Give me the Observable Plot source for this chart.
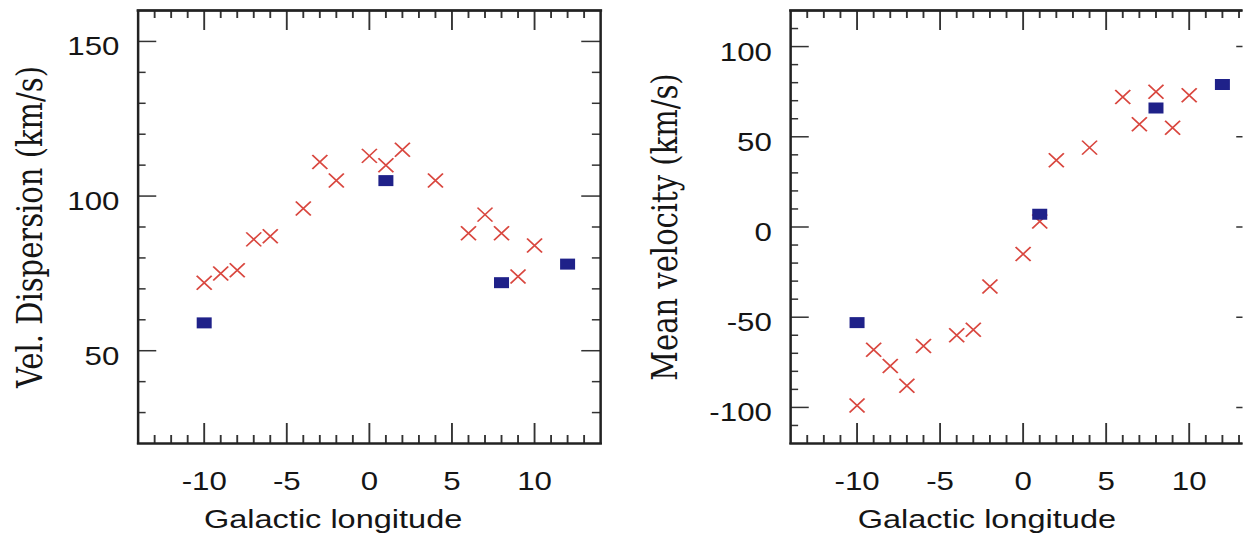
<!DOCTYPE html>
<html>
<head>
<meta charset="utf-8">
<script src="https://cdn.jsdelivr.net/npm/d3@7"></script>
<script src="https://cdn.jsdelivr.net/npm/@observablehq/plot@0.6"></script>
<style>
  html, body { margin: 0; padding: 0; background: #fff; overflow: hidden; }
  #wrap { position: relative; width: 994.4px; height: 540px; overflow: hidden;
          transform: scaleX(1.25); transform-origin: 0 0; background: #fff; }
  #wrap svg { position: absolute; top: 0; }
</style>
</head>
<body>
<div id="wrap"></div>
<script>
// ---- data ----
const starLon = [-10, -9, -8, -7, -6, -4, -3, -2, 0, 1, 2, 4, 6, 7, 8, 9, 10];
const starDisp = [72, 75, 76, 86, 87, 96, 111, 105, 113, 110, 115, 105, 88, 94, 88, 74, 84];
const starVel = [-99, -68, -77, -88, -66, -60, -57, -33, -15, 3, 37, 44, 72, 57, 75, 55, 73];
const fieldLon = [-10, 1, 8, 12];
const fieldDisp = [59, 105, 72, 78];
const fieldVel = [-53, 7, 66, 79];

const xTicks = [-10, -5, 0, 5, 10];
const dispTicks = [50, 100, 150];
const velTicks = [-100, -50, 0, 50, 100];

const xTitle = "Galactic longitude";
const dispTitle = "Vel. Dispersion (km/s)";
const velTitle = "Mean velocity (km/s)";

// ---- helpers ----
const H = 540, MT = 10, MB = 97, FH = H - MT - MB;
const crossColor = "#d9473f";
const squareColor = "#1f2189";
const inkColor = "#151515";
const hyphen = d => `${d}`; // plain ASCII hyphen-minus as in the reference

const crossSymbol = {draw(ctx) { ctx.moveTo(-6, -7); ctx.lineTo(6, 7); ctx.moveTo(6, -7); ctx.lineTo(-6, 7); }};
const squareSymbol = {draw(ctx) { ctx.rect(-6, -5.5, 12, 11); }};

const xMinor = d3.range(-13, 14, 1).filter(v => !xTicks.includes(v));

function panel({left, width, marginLeft, marginRight, yDomain, yTicks, yMinor, starY, fieldY, yTitle, yTitleDx}) {
  const FW = width - marginLeft - marginRight;
  const stars = starLon.map((l, i) => ({l, v: starY[i]}));
  const fields = fieldLon.map((l, i) => ({l, v: fieldY[i]}));
  const tick = {stroke: "#333", strokeWidth: 1.5};
  const frameStyle = {stroke: "#222", strokeWidth: 2};
  const svg = Plot.plot({
    width, height: H, marginTop: MT, marginBottom: MB, marginLeft, marginRight,
    style: {fontFamily: "'Liberation Sans', Arial, Helvetica, sans-serif", color: inkColor, background: "#fff", overflow: "visible"},
    x: {domain: [-14, 14], label: null},
    y: {domain: yDomain, label: null},
    marks: [
      // bottom & top ticks (inward)
      Plot.tickX(xTicks, {x: d => d, insetTop: FH - 20, ...tick}),
      Plot.tickX(xMinor, {x: d => d, insetTop: FH - 8, ...tick}),
      Plot.tickX(xTicks, {x: d => d, insetBottom: FH - 20, ...tick}),
      Plot.tickX(xMinor, {x: d => d, insetBottom: FH - 8, ...tick}),
      // left & right ticks (inward)
      Plot.tickY(yTicks, {y: d => d, insetRight: FW - 15, ...tick}),
      Plot.tickY(yMinor, {y: d => d, insetRight: FW - 6.5, ...tick}),
      Plot.tickY(yTicks, {y: d => d, insetLeft: FW - 15, ...tick}),
      Plot.tickY(yMinor, {y: d => d, insetLeft: FW - 6.5, ...tick}),
      Plot.frame(frameStyle),
      Plot.frame({anchor: "top", ...frameStyle, strokeWidth: 2.4}),
      Plot.frame({anchor: "bottom", ...frameStyle}),
      Plot.axisX(xTicks, {tickSize: 0, tickPadding: 29, fontSize: 25, tickFormat: hyphen, label: null}),
      Plot.axisY(yTicks, {tickSize: 0, tickPadding: 15, dy: 6, fontSize: 25, tickFormat: hyphen, label: null}),
      Plot.text([xTitle], {frameAnchor: "bottom", dy: 76, dx: -29, fontSize: 26, lineAnchor: "middle", textAnchor: "middle"}),
      Plot.text([yTitle], {frameAnchor: "left", rotate: -90, dx: yTitleDx, fontSize: 29, fontFamily: "'DejaVu Serif', serif", lineAnchor: "middle", textAnchor: "middle"}),
      Plot.dot(stars, {x: "l", y: "v", symbol: crossSymbol, fill: "none", stroke: crossColor, strokeWidth: 1.5}),
      Plot.dot(fields, {x: "l", y: "v", symbol: squareSymbol, fill: squareColor, stroke: "none"})
    ]
  });
  svg.style.left = left + "px";
  document.getElementById("wrap").appendChild(svg);
}

panel({
  left: 0, width: 500, marginLeft: 110, marginRight: 20,
  yDomain: [20, 160], yTicks: dispTicks,
  yMinor: d3.range(30, 160, 10).filter(v => !dispTicks.includes(v)),
  starY: starDisp, fieldY: fieldDisp, yTitle: dispTitle, yTitleDx: -86
});
panel({
  left: 500, width: 520, marginLeft: 132, marginRight: 16,
  yDomain: [-120, 120], yTicks: velTicks,
  yMinor: d3.range(-110, 120, 10).filter(v => !velTicks.includes(v)),
  starY: starVel, fieldY: fieldVel, yTitle: velTitle, yTitleDx: -100
});
</script>
</body>
</html>
